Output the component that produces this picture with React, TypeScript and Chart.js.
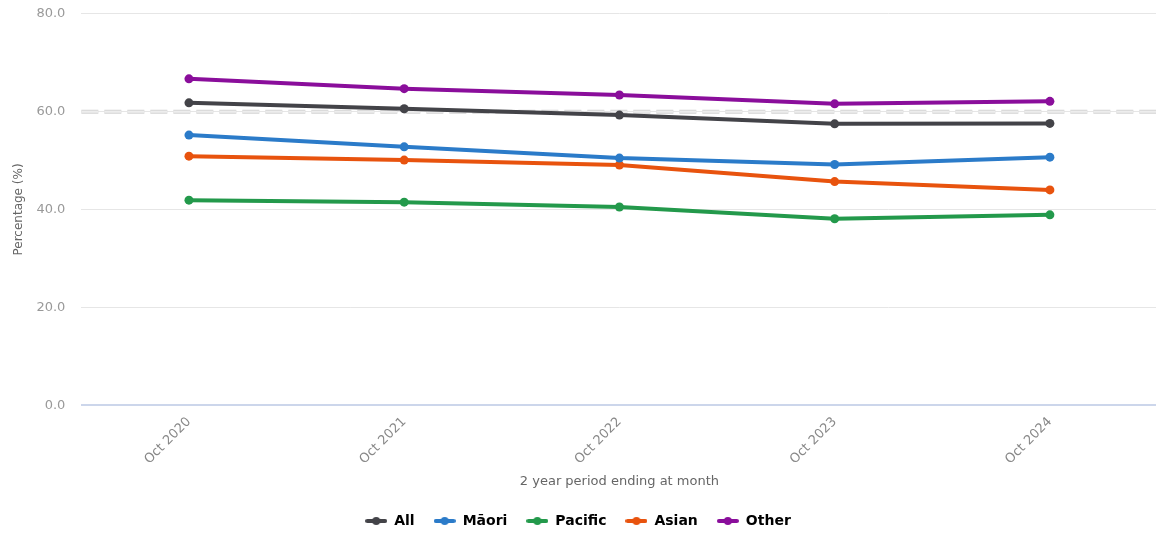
import React, { useEffect, useRef } from "react";
import { Chart, registerables } from "chart.js";

Chart.register(...registerables);

const categories = ["Oct 2020", "Oct 2021", "Oct 2022", "Oct 2023", "Oct 2024"];
const allValues = [61.8, 60.6, 59.3, 57.5, 57.6];
const maoriValues = [55.2, 52.8, 50.5, 49.2, 50.7];
const pacificValues = [41.9, 41.5, 40.5, 38.1, 38.9];
const asianValues = [50.9, 50.1, 49.1, 45.7, 44.0];
const otherValues = [66.7, 64.7, 63.4, 61.6, 62.1];
const seriesNames = ["All", "Māori", "Pacific", "Asian", "Other"];
const seriesColors = ["#434348", "#2b7bc9", "#23994b", "#e8530e", "#8a0e9b"];
const referenceValue = 60;
const yTicks = [0, 20, 40, 60, 80];

const FONT = "'DejaVu Sans', sans-serif";
const SHIFT_TOP = 10;
const SHIFT_LEFT = 6;
const EXTRA_BOTTOM = 4;
const EXTRA_RIGHT = 6;

function makeMarker(color: string): HTMLCanvasElement {
  const c = document.createElement("canvas");
  c.width = 22;
  c.height = 10;
  const g = c.getContext("2d")!;
  g.strokeStyle = color;
  g.lineWidth = 4;
  g.lineCap = "round";
  g.beginPath();
  g.moveTo(2, 5);
  g.lineTo(20, 5);
  g.stroke();
  g.fillStyle = color;
  g.beginPath();
  g.arc(11, 5, 4, 0, Math.PI * 2);
  g.fill();
  return c;
}

const refLinePlugin = {
  id: "refLine",
  beforeDatasetsDraw(chart: any) {
    const { ctx, chartArea, scales } = chart;
    const y = scales.y.getPixelForValue(referenceValue);
    ctx.save();
    ctx.setLineDash([17, 6]);
    ctx.strokeStyle = "#d4d4d4";
    ctx.lineWidth = 4;
    ctx.beginPath();
    ctx.moveTo(chartArea.left, y);
    ctx.lineTo(chartArea.right, y);
    ctx.stroke();
    ctx.strokeStyle = "#ededed";
    ctx.lineWidth = 2;
    ctx.beginPath();
    ctx.moveTo(chartArea.left, y);
    ctx.lineTo(chartArea.right, y);
    ctx.stroke();
    ctx.restore();
  },
};

export default function App() {
  const ref = useRef<HTMLCanvasElement>(null);
  useEffect(() => {
    const seriesValues = [allValues, maoriValues, pacificValues, asianValues, otherValues];
    const markers = seriesColors.map(makeMarker);
    const chart = new Chart(ref.current!, {
      type: "line",
      data: {
        labels: categories,
        datasets: seriesNames.map((name, i) => ({
          label: name,
          data: seriesValues[i],
          borderColor: seriesColors[i],
          backgroundColor: seriesColors[i],
          borderWidth: 4,
          pointRadius: 4.5,
          pointStyle: "circle",
          pointBackgroundColor: seriesColors[i],
          pointBorderWidth: 0,
          tension: 0,
        })),
      },
      options: {
        animation: false,
        responsive: false,
        maintainAspectRatio: false,
        layout: { padding: { left: 0, right: 0, top: 0, bottom: 0 } },
        plugins: {
          legend: {
            position: "bottom",
            labels: {
              usePointStyle: true,
              pointStyleWidth: 22,
              boxHeight: 10,
              padding: 19,
              color: "#333333",
              font: { family: FONT, size: 14, weight: "bold" },
              generateLabels: (chart: any) =>
                chart.data.datasets.map((ds: any, i: number) => ({
                  text: ds.label,
                  pointStyle: markers[i],
                  fillStyle: seriesColors[i],
                  strokeStyle: seriesColors[i],
                  lineWidth: 0,
                  hidden: false,
                  datasetIndex: i,
                })),
            },
          },
          tooltip: { enabled: false },
        },
        scales: {
          x: {
            offset: true,
            grid: { display: false },
            border: { display: false },
            ticks: {
              minRotation: 45,
              maxRotation: 45,
              padding: 1,
              color: "#888888",
              font: { family: FONT, size: 13 },
            },
            title: {
              display: true,
              text: "2 year period ending at month",
              color: "#666666",
              font: { family: FONT, size: 13 },
              padding: { top: 5, bottom: 6 },
            },
          },
          y: {
            min: 0,
            max: 80,
            afterBuildTicks: (axis: any) => {
              axis.ticks = yTicks.map((v) => ({ value: v }));
            },
            grid: {
              drawTicks: false,
              color: (ctx: any) => (ctx.tick && ctx.tick.value === 0 ? "#ccd6eb" : "#e6e6e6"),
              lineWidth: (ctx: any) => (ctx.tick && ctx.tick.value === 0 ? 2 : 1),
            },
            border: { display: false },
            ticks: {
              padding: 16,
              color: "#999999",
              font: { family: FONT, size: 13 },
              callback: (v: any) => Number(v).toFixed(1),
            },
            title: {
              display: true,
              text: "Percentage (%)",
              color: "#666666",
              font: { family: FONT, size: 12 },
              padding: { top: 18, bottom: -6 },
            },
          },
        },
      },
      plugins: [refLinePlugin],
    });
    return () => chart.destroy();
  }, []);
  const w = 1156 + SHIFT_LEFT + EXTRA_RIGHT;
  const h = 534 + SHIFT_TOP + EXTRA_BOTTOM;
  return (
    <div style={{ position: "fixed", left: 0, top: 0, width: 1156, height: 534, overflow: "hidden", background: "#fff" }}>
      <canvas
        ref={ref}
        width={w}
        height={h}
        style={{ position: "absolute", left: -SHIFT_LEFT, top: -SHIFT_TOP, width: w, height: h }}
      />
    </div>
  );
}
